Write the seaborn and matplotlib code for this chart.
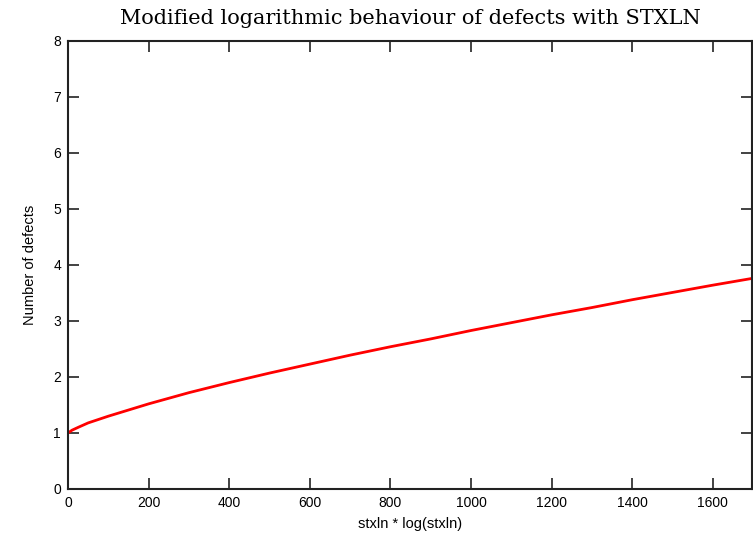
import matplotlib
matplotlib.use("Agg")
import matplotlib.pyplot as plt
import seaborn as sns
import pandas as pd

# Defect count against stxln * log(stxln)
stxln_log = [0, 10, 25, 50, 100, 200, 300, 400, 500, 600, 700, 800, 900,
             1000, 1100, 1200, 1300, 1400, 1500, 1600, 1697]
defects = [1.00, 1.05, 1.10, 1.18, 1.30, 1.52, 1.72, 1.90, 2.07, 2.23, 2.39,
           2.54, 2.68, 2.83, 2.97, 3.11, 3.24, 3.38, 3.51, 3.64, 3.76]

x_ticks = [0, 200, 400, 600, 800, 1000, 1200, 1400, 1600]
y_ticks = [0, 1, 2, 3, 4, 5, 6, 7, 8]

df = pd.DataFrame({"x": stxln_log, "y": defects})

sns.set_theme(style="ticks")
plt.rcParams["font.family"] = ["Liberation Sans", "DejaVu Sans"]

fig = plt.figure(figsize=(7.53, 5.35), dpi=100)
ax = fig.add_axes([0.0903, 0.086, 0.9084, 0.8374])

sns.lineplot(data=df, x="x", y="y", color="#ff0000", linewidth=2.0, ax=ax)

ax.set_xlim(0, 1697)
ax.set_ylim(0, 8)
ax.set_xticks(x_ticks)
ax.set_yticks(y_ticks)
ax.tick_params(direction="in", length=8, width=1.2, colors="#222222",
               labelcolor="black", labelsize=10, top=True, right=True,
               pad=5)
for s in ax.spines.values():
    s.set_linewidth(1.5)
    s.set_color("#222222")
    s.set_visible(True)

ax.set_xlabel("stxln * log(stxln)", fontsize=10.5, labelpad=5, color="black")
ax.set_ylabel("Number of defects", fontsize=10.5, labelpad=12, color="black")
ax.set_title("Modified logarithmic behaviour of defects with STXLN",
             fontsize=15, family="DejaVu Serif", pad=12, color="black")

fig.savefig("out.png", dpi=100)
